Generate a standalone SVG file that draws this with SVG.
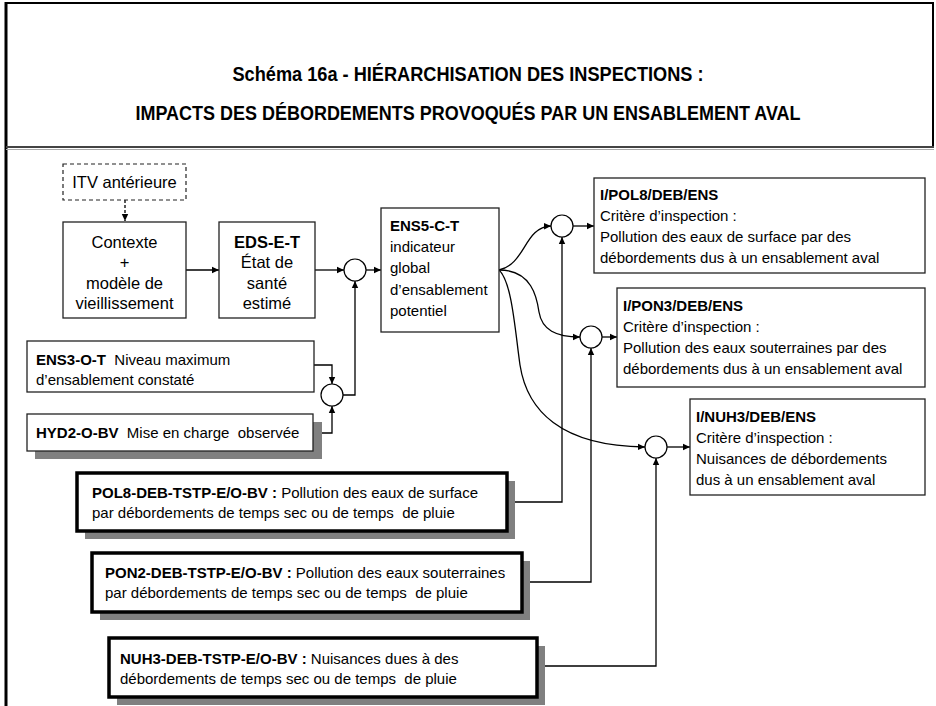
<svg xmlns="http://www.w3.org/2000/svg" width="936" height="706" viewBox="0 0 936 706">
<defs>
<marker id="ah" markerWidth="8" markerHeight="8" refX="7" refY="4" orient="auto" markerUnits="userSpaceOnUse">
<path d="M0,0.8 L7,4 L0,7.2 z" fill="#000"/>
</marker>
<style>
text{font-family:"Liberation Sans",Arial,sans-serif;font-size:15px;fill:#000;white-space:pre}
.t{font-family:"Liberation Sans Narrow","Liberation Sans",Arial,sans-serif;font-size:20px;font-weight:bold;text-anchor:middle}
.b{font-weight:bold}
.c{text-anchor:middle}
.l{font-size:16.5px}
.box{fill:#fff;stroke:#222;stroke-width:1.3}
.dash{fill:#fff;stroke:#222;stroke-width:1.2;stroke-dasharray:4 3}
.thick{fill:#fff;stroke:#000;stroke-width:3.5}
.sh{fill:#808080}
.circ{fill:#fff;stroke:#000;stroke-width:1.2}
.arr{fill:none;stroke:#000;stroke-width:1.3;marker-end:url(#ah)}
</style>
</defs>
<rect width="936" height="706" fill="#fff"/>
<g id="frame">
<line x1="6" y1="2" x2="6" y2="706" stroke="#000" stroke-width="3"/>
<line x1="5" y1="3" x2="934" y2="3" stroke="#000" stroke-width="2"/>
<line x1="933" y1="3" x2="933" y2="148" stroke="#000" stroke-width="2"/>
<line x1="6" y1="147" x2="934" y2="147" stroke="#444" stroke-width="2"/>
<line x1="6" y1="149.5" x2="934" y2="149.5" stroke="#aaa" stroke-width="1"/>
</g>
<g id="title">
<text class="t" x="468" y="81" textLength="471" lengthAdjust="spacingAndGlyphs">Schéma 16a - HIÉRARCHISATION DES INSPECTIONS :</text>
<text class="t" x="468" y="120" textLength="665" lengthAdjust="spacingAndGlyphs">IMPACTS DES DÉBORDEMENTS PROVOQUÉS PAR UN ENSABLEMENT AVAL</text>
</g>
<g id="connectors">
<line class="arr" x1="125" y1="200" x2="125" y2="221" stroke-dasharray="3 2"/>
<line class="arr" x1="186" y1="270" x2="219" y2="270"/>
<line class="arr" x1="315" y1="270" x2="344" y2="270"/>
<line class="arr" x1="366" y1="270" x2="381" y2="270"/>
<polyline class="arr" points="314,365 332,365 332,384"/>
<polyline class="arr" points="313,433 332,433 332,406"/>
<polyline class="arr" points="343,395 355,395 355,281"/>
<path class="arr" d="M499,270 C526,264 524,227 551,226"/>
<path class="arr" d="M499,270 C532,270 537,298 539,312 C542,330 556,337 580,337"/>
<path class="arr" d="M499,270 C512,282 515,330 520,365 C527,410 560,446 645,447"/>
<line class="arr" x1="573" y1="226" x2="594" y2="226"/>
<line class="arr" x1="602" y1="337" x2="617" y2="337"/>
<line class="arr" x1="667" y1="447" x2="690" y2="447"/>
<polyline class="arr" points="507,502 562,502 562,237"/>
<polyline class="arr" points="522,582 591,582 591,348"/>
<polyline class="arr" points="537,666 656,666 656,458"/>
</g>
<g id="circles">
<circle class="circ" cx="355" cy="270" r="11"/>
<circle class="circ" cx="332" cy="395" r="11"/>
<circle class="circ" cx="562" cy="226" r="11"/>
<circle class="circ" cx="591" cy="337" r="11"/>
<circle class="circ" cx="656" cy="447" r="11"/>
</g>
<g id="itv">
<rect class="dash" x="63" y="164" width="123" height="36"/>
<text class="c l" x="124.5" y="188">ITV antérieure</text>
</g>
<g id="contexte">
<rect class="box" x="63" y="222" width="123" height="96"/>
<text class="c l" x="124.5" y="248">Contexte</text>
<text class="c l" x="124.5" y="268">+</text>
<text class="c l" x="124.5" y="289">modèle de</text>
<text class="c l" x="124.5" y="309">vieillissement</text>
</g>
<g id="eds">
<rect class="box" x="219" y="222" width="96" height="96"/>
<text class="c b l" x="267" y="248">EDS-E-T</text>
<text class="c l" x="267" y="268">État de</text>
<text class="c l" x="267" y="289">santé</text>
<text class="c l" x="267" y="309">estimé</text>
</g>
<g id="ens5">
<rect class="box" x="381" y="208" width="118" height="124"/>
<text class="b" x="390" y="231">ENS5-C-T</text>
<text x="390" y="252">indicateur</text>
<text x="390" y="273">global</text>
<text x="390" y="295">d’ensablement</text>
<text x="390" y="316">potentiel</text>
</g>
<g id="ens3">
<rect class="box" x="27" y="341" width="287" height="51"/>
<text x="36" y="365"><tspan class="b">ENS3-O-T</tspan>  Niveau maximum</text>
<text x="36" y="385">d’ensablement constaté</text>
</g>
<g id="hyd2">
<rect class="sh" x="35" y="422" width="287" height="37"/>
<rect class="box" x="27" y="414" width="286" height="37"/>
<text x="36" y="438"><tspan class="b">HYD2-O-BV</tspan>  Mise en charge  observée</text>
</g>
<g id="ipol8">
<rect class="box" x="594" y="178" width="331" height="95"/>
<text class="b" x="600" y="200">I/POL8/DEB/ENS</text>
<text x="600" y="221">Critère d’inspection :</text>
<text x="600" y="242">Pollution des eaux de surface par des</text>
<text x="600" y="263">débordements dus à un ensablement aval</text>
</g>
<g id="ipon3">
<rect class="box" x="617" y="288" width="308" height="99"/>
<text class="b" x="623" y="311">I/PON3/DEB/ENS</text>
<text x="623" y="332">Critère d’inspection :</text>
<text x="623" y="353">Pollution des eaux souterraines par des</text>
<text x="623" y="374">débordements dus à un ensablement aval</text>
</g>
<g id="inuh3">
<rect class="box" x="690" y="399" width="235" height="96"/>
<text class="b" x="696" y="422">I/NUH3/DEB/ENS</text>
<text x="696" y="443">Critère d’inspection :</text>
<text x="696" y="464">Nuisances de débordements</text>
<text x="696" y="485">dus à un ensablement aval</text>
</g>
<g id="pol8">
<rect class="sh" x="85" y="481" width="430" height="58"/>
<rect class="thick" x="77" y="473" width="430" height="58"/>
<text x="92" y="498"><tspan class="b">POL8-DEB-TSTP-E/O-BV :</tspan> Pollution des eaux de surface</text>
<text x="92" y="518">par débordements de temps sec ou de temps  de pluie</text>
</g>
<g id="pon2">
<rect class="sh" x="100" y="561" width="430" height="59"/>
<rect class="thick" x="92" y="553" width="430" height="59"/>
<text x="105" y="578"><tspan class="b">PON2-DEB-TSTP-E/O-BV :</tspan> Pollution des eaux souterraines</text>
<text x="105" y="598">par débordements de temps sec ou de temps  de pluie</text>
</g>
<g id="nuh3">
<rect class="sh" x="117" y="646" width="428" height="59"/>
<rect class="thick" x="109" y="638" width="428" height="59"/>
<text x="120" y="664"><tspan class="b">NUH3-DEB-TSTP-E/O-BV :</tspan> Nuisances dues à des</text>
<text x="120" y="684">débordements de temps sec ou de temps  de pluie</text>
</g>
</svg>
